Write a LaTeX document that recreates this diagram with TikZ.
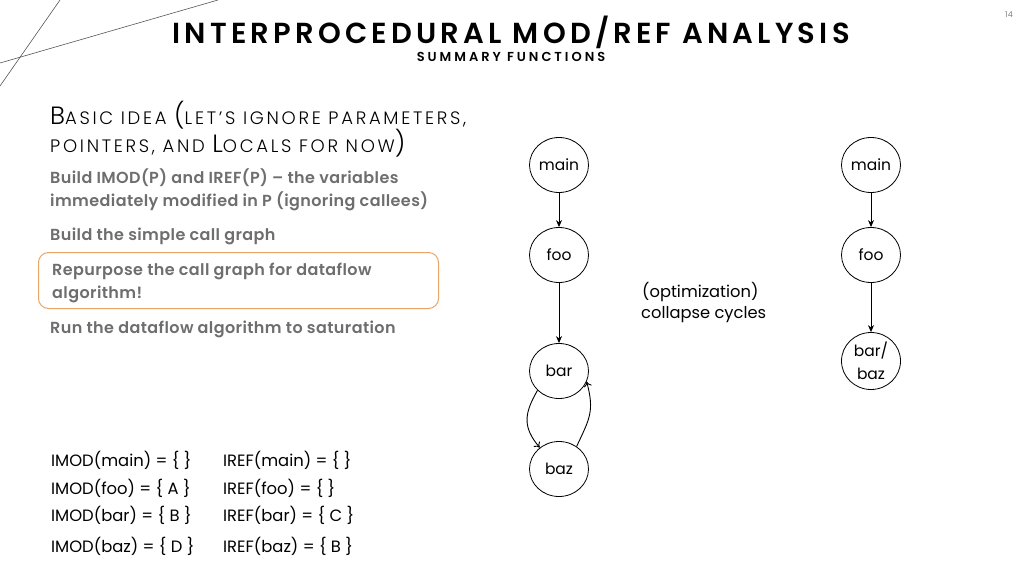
\documentclass[tikz,border=0pt]{standalone}
\usepackage{fontspec}
\setmainfont{Poppins}
\newfontfamily\semib{Poppins SemiBold}
\newfontfamily\lightf{Poppins Light}
\usetikzlibrary{arrows.meta,shapes.geometric}
\definecolor{gtext}{HTML}{6E6E6E}
\definecolor{obox}{HTML}{E9A464}
\definecolor{deco}{HTML}{555555}
\newcommand\bigc[1]{{\fontsize{25}{25}\selectfont #1}}
\newcommand\smc[1]{{\fontsize{18}{18}\selectfont\addfontfeature{LetterSpace=15}#1}}
\begin{document}
\begin{tikzpicture}[x=1pt,y=-1pt,
  txt/.style={anchor=west,inner sep=0pt,font=\semib\fontsize{16}{16}\selectfont\addfontfeature{LetterSpace=2.5},text=gtext},
  tbl/.style={anchor=west,inner sep=0pt,font=\fontsize{16.4}{16}\selectfont},
  fn/.style={draw,ellipse,minimum width=59,minimum height=55,inner sep=0pt,font=\fontsize{15.5}{16}\selectfont,line width=0.8pt},
  edge/.style={line width=0.9pt,-{Stealth[length=7pt,width=6pt]}},
  cedge/.style={line width=0.9pt,-{To[length=5pt,width=8pt]}}]
\useasboundingbox (0,0) rectangle (1024,576);
% decorative lines
\coordinate (l1a) at (60,0); \coordinate (l1b) at (0,86);
\coordinate (l2a) at (0,63); \coordinate (l2b) at (218,0);
\draw[deco,line width=0.6pt] (l1a) -- (l1b);
\draw[deco,line width=0.6pt] (l2a) -- (l2b);
% page number
\node[anchor=center,font=\fontsize{8}{8}\selectfont,text=gray] (pg) at (1009,15) {14};
% titles
\node[anchor=center,font=\semib\fontsize{29}{29}\selectfont\addfontfeature{LetterSpace=14.5}] (title) at (511,32) {INTERPROCEDURAL MOD/REF ANALYSIS};
\node[anchor=center,font=\semib\fontsize{13}{12}\selectfont\addfontfeature{LetterSpace=23}] (sub) at (511,57) {SUMMARY FUNCTIONS};
% heading
\node[anchor=west,inner sep=0pt,font=\lightf] (h1) at (50,115) {\bigc{B}\smc{ASIC IDEA }\bigc{(}\smc{LET’S IGNORE PARAMETERS,}};
\node[anchor=west,inner sep=0pt,font=\lightf] (h2) at (50,143) {\smc{POINTERS, AND }\bigc{L}\smc{OCALS FOR NOW}\bigc{)}};
% bullets
\node[txt] (b1a) at (50,178) {Build IMOD(P) and IREF(P) – the variables};
\node[txt] (b1b) at (50,201) {immediately modified in P (ignoring callees)};
\node[txt] (b2) at (50,236) {Build the simple call graph};
\node[draw=obox,rounded corners=10pt,line width=1pt,minimum width=400,minimum height=56,anchor=north west,inner sep=0pt] (hl) at (38,252) {};
\node[txt] (b3a) at (52,271) {Repurpose the call graph for dataflow};
\node[txt] (b3b) at (52,294) {algorithm!};
\node[txt] (b4) at (50,329) {Run the dataflow algorithm to saturation};
% table
\node[tbl] (m1) at (51,460) {IMOD(main) = \{ \}};
\node[tbl] (m2) at (51,488) {IMOD(foo) = \{ A \}};
\node[tbl] (m3) at (51,515) {IMOD(bar) = \{ B \}};
\node[tbl] (m4) at (51,546) {IMOD(baz) = \{ D \}};
\node[tbl] (r1) at (223,460) {IREF(main) = \{ \}};
\node[tbl] (r2) at (223,488) {IREF(foo) = \{ \}};
\node[tbl] (r3) at (223,515) {IREF(bar) = \{ C \}};
\node[tbl] (r4) at (223,546) {IREF(baz) = \{ B \}};
% left graph
\node[fn] (main) at (559,165) {main};
\node[fn] (foo) at (559,255) {foo};
\node[fn] (bar) at (559,371) {bar};
\node[fn] (baz) at (559,469) {baz};
\draw[edge] (main) -- (foo);
\draw[edge] (foo) -- (bar);
\draw[cedge] (bar.222) to[out=240,in=130,looseness=1.2] (baz.132);
\draw[cedge] (baz.52) to[out=65,in=-75,looseness=1.2] (bar.339);
% middle text
\node[anchor=west,inner sep=0pt,font=\fontsize{16.3}{16}\selectfont] (opt1) at (642,292) {(optimization)};
\node[anchor=west,inner sep=0pt,font=\fontsize{16.3}{16}\selectfont] (opt2) at (641,315) {collapse cycles};
% right graph
\node[fn] (main2) at (871,165) {main};
\node[fn] (foo2) at (871,255) {foo};
\node[fn,minimum height=57,align=center,font=\fontsize{15.5}{23}\selectfont] (bb) at (871,361) {bar/\\baz};
\draw[edge] (main2) -- (foo2);
\draw[edge] (foo2) -- (bb);
\end{tikzpicture}
\end{document}
